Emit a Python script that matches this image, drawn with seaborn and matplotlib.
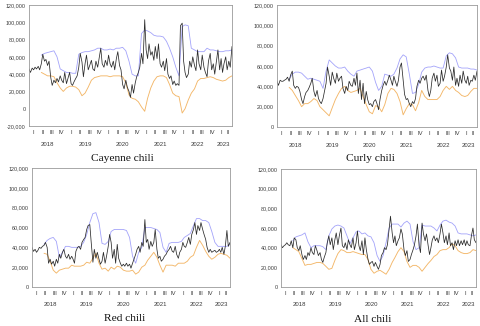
import matplotlib

matplotlib.use("Agg")

import matplotlib.pyplot as plt
import matplotlib.ticker as mticker
import numpy as np
import pandas as pd
import seaborn as sns


# semi-monthly actual prices, Jan 2018 - Jun 2023 (thousand Rp/kg)
HALF_MONTHS = pd.date_range("2018-01-01", periods=131, freq="SMS")
# monthly forecast bands, May 2018 - Jun 2023
MONTHS = pd.date_range("2018-05-01", periods=62, freq="MS")

CAYENNE_ACTUAL = [
    46, 42, 47, 45, 48, 46, 49, 45, 52, 63,
    55, 57, 50, 55, 36, 27, 33, 30, 35, 31,
    38, 33, 30, 42, 29, 35, 42, 29, 27, 31,
    35, 38, 48, 64, 54, 37, 52, 62, 45, 50,
    56, 46, 44, 55, 48, 58, 70, 52, 48, 56,
    50, 62, 52, 48, 55, 45, 58, 66, 50, 45,
    28, 23, 33, 25, 20, 13, 28, 18, 30, 37,
    42, 48, 64, 52, 103, 68, 58, 75, 62, 66,
    56, 72, 58, 75, 52, 48, 55, 44, 58, 40,
    35, 38, 28, 32, 27, 29, 27, 96, 99, 55,
    42, 36, 40, 55, 48, 60, 50, 44, 68, 52,
    45, 62, 48, 42, 37, 55, 64, 45, 52, 40,
    55, 68, 45, 58, 42, 52, 60, 45, 55, 48,
    72,
]
CAYENNE_UPPER = [
    62, 64, 65, 66, 67, 60, 46, 44, 42, 42,
    41, 41, 63, 65, 66, 66, 67, 68, 70, 70,
    68, 68, 69, 68, 70, 70, 71, 67, 55, 40,
    38, 38, 87, 91, 90, 88, 85, 84, 84, 83,
    78, 70, 60, 48, 38, 95, 97, 96, 70, 68,
    66, 66, 66, 70, 68, 68, 67, 66, 66, 67,
    67, 68,
]
CAYENNE_LOWER = [
    42, 40, 38, 38, 37, 30, 24, 20, 24, 26,
    26, 25, 22, 15, 18, 25, 33, 36, 37, 38,
    38, 38, 37, 38, 38, 38, 37, 30, 16, 12,
    11, 8, 2, -3, 12, 24, 32, 37, 38, 38,
    36, 28, 18, 15, 14, -5, 0, 10, 18, 23,
    32, 35, 35, 36, 37, 36, 34, 33, 32, 33,
    36, 38,
]

CURLY_ACTUAL = [
    45, 41, 46, 45, 45, 46, 47, 49, 45, 51,
    55, 41, 38, 40, 39, 35, 27, 23, 30, 34,
    36, 39, 43, 48, 35, 30, 36, 28, 25, 23,
    28, 35, 43, 59, 50, 41, 54, 48, 43, 53,
    45, 48, 50, 38, 33, 40, 36, 45, 41, 40,
    48, 41, 53, 33, 46, 27, 43, 23, 35, 27,
    22, 23, 20, 25, 27, 23, 17, 27, 36, 41,
    45, 41, 46, 51, 46, 41, 50, 45, 40, 46,
    59, 63, 46, 32, 27, 28, 23, 20, 25, 23,
    28, 40, 46, 43, 48, 50, 46, 51, 36, 30,
    36, 48, 53, 45, 51, 40, 43, 56, 45, 50,
    59, 71, 58, 55, 46, 59, 41, 48, 40, 51,
    43, 55, 46, 43, 50, 41, 46, 45, 51, 46,
    55,
]
CURLY_UPPER = [
    47, 52, 54, 54, 53, 50, 47, 48, 47, 46,
    45, 38, 55, 66, 63, 60, 58, 58, 59, 55,
    52, 50, 55, 56, 57, 58, 59, 55, 44, 36,
    40, 52, 51, 50, 52, 58, 67, 71, 69, 52,
    33, 34, 42, 54, 58, 59, 59, 60, 59, 58,
    58, 70, 73, 72, 68, 59, 58, 58, 58, 57,
    57, 56,
]
CURLY_LOWER = [
    39, 36, 31, 26, 20, 23, 23, 25, 28, 26,
    20, 17, 14, 11, 19, 27, 33, 38, 40, 36,
    34, 35, 36, 38, 30, 22, 15, 13, 21, 20,
    15, 22, 33, 38, 37, 33, 25, 12, 18, 23,
    22, 16, 24, 36, 30, 27, 27, 27, 27, 30,
    36, 40, 37, 40, 36, 34, 31, 30, 31, 35,
    38, 38,
]

RED_ACTUAL = [
    40, 36, 38, 35, 37, 40, 39, 41, 42, 45,
    40, 24, 28, 23, 26, 21, 28, 24, 33, 29,
    35, 38, 31, 29, 33, 28, 31, 28, 24, 36,
    40, 41, 38, 45, 48, 50, 58, 62, 63, 45,
    25, 38, 29, 35, 28, 23, 26, 35, 24, 31,
    41, 53, 45, 29, 38, 24, 43, 29, 24, 21,
    23, 21, 24, 21, 23, 19, 24, 28, 33, 38,
    41, 35, 45, 41, 68, 45, 48, 38, 46, 41,
    45, 58, 38, 29, 31, 26, 28, 31, 33, 36,
    38, 41, 36, 35, 41, 33, 29, 35, 38, 45,
    41, 40, 45, 50, 43, 53, 58, 65, 53, 62,
    57, 65, 58, 53, 48, 40, 35, 38, 35, 36,
    37, 35, 36, 38, 35, 40, 33, 41, 57, 41,
    45,
]
RED_UPPER = [
    43, 47, 49, 50, 46, 30, 35, 41, 41, 40,
    40, 40, 41, 45, 53, 65, 74, 75, 65, 44,
    43, 46, 56, 58, 58, 58, 58, 57, 50, 31,
    24, 35, 40, 60, 60, 60, 59, 58, 55, 40,
    35, 44, 45, 45, 45, 46, 50, 52, 54, 62,
    69, 69, 67, 67, 65, 56, 45, 41, 41, 41,
    41, 43,
]
RED_LOWER = [
    34, 33, 26, 17, 14, 17, 18, 19, 19, 22,
    21, 21, 21, 22, 25, 24, 29, 34, 24, 18,
    19, 16, 20, 18, 21, 20, 17, 16, 16, 17,
    13, 15, 20, 22, 27, 31, 35, 30, 22, 15,
    22, 22, 22, 21, 24, 24, 24, 26, 30, 32,
    40, 47, 42, 36, 31, 28, 30, 33, 34, 33,
    32, 29,
]

ALL_ACTUAL = [
    43, 40, 42, 43, 45, 43, 42, 47, 40, 50,
    48, 40, 37, 42, 33, 28, 32, 28, 35, 32,
    40, 35, 33, 42, 37, 32, 35, 28, 25, 30,
    35, 45, 52, 43, 50, 38, 48, 55, 43, 52,
    60, 42, 40, 45, 38, 48, 43, 40, 50, 38,
    45, 57, 42, 37, 47, 33, 50, 38, 28, 23,
    25, 26, 21, 25, 21, 18, 23, 32, 35, 40,
    38, 43, 59, 72, 55, 45, 52, 42, 47, 50,
    59, 54, 38, 32, 37, 26, 28, 33, 38, 43,
    52, 64, 42, 35, 65, 54, 47, 54, 42, 33,
    40, 48, 52, 47, 50, 45, 54, 64, 55, 45,
    52, 43, 55, 42, 45, 38, 47, 42, 48, 42,
    47, 43, 48, 42, 47, 43, 42, 52, 60, 48,
    45,
]
ALL_UPPER = [
    47, 51, 52, 53, 55, 46, 40, 42, 42, 42,
    41, 38, 52, 59, 62, 63, 62, 60, 52, 44,
    50, 56, 57, 54, 55, 52, 51, 45, 32, 26,
    32, 45, 60, 64, 64, 64, 61, 65, 67, 64,
    46, 38, 40, 63, 62, 62, 62, 60, 57, 63,
    67, 68, 66, 65, 62, 55, 54, 54, 54, 53,
    52, 53,
]
ALL_LOWER = [
    40, 38, 36, 29, 22, 23, 23, 24, 25, 25,
    24, 21, 18, 19, 27, 34, 38, 37, 35, 35,
    36, 35, 34, 33, 33, 28, 18, 14, 16, 17,
    15, 13, 18, 25, 30, 36, 40, 36, 26, 20,
    22, 22, 20, 16, 20, 24, 27, 31, 33, 37,
    38, 38, 40, 44, 42, 37, 35, 34, 34, 35,
    38, 37,
]

TITLES = ["Cayenne chili", "Curly chili", "Red chili", "All chili"]
YEARS = [2018, 2019, 2020, 2021, 2022, 2023]
QUARTER_NAMES = ["I", "II", "III", "IV"]

# layout (figure fractions) for the four panels
AXES_RECTS = [
    [0.0604, 0.6135, 0.4229, 0.3712],
    [0.5771, 0.6104, 0.4167, 0.3742],
    [0.0667, 0.1196, 0.4125, 0.3650],
    [0.5854, 0.1196, 0.4063, 0.3620],
]
TITLE_POS = [(0.254, 0.515), (0.771, 0.515), (0.259, 0.022), (0.777, 0.020)]
YEAR_OFFSET = [-13.5, -13.5, -12.5, -12.5]

X_START = pd.Timestamp("2018-01-01")
X_END = pd.Timestamp("2023-05-20")

ACTUAL_COLOR = "#2a2a2a"
UPPER_COLOR = "#a3a3fa"
LOWER_COLOR = "#f3b769"
FRAME_COLOR = "#9a9a9a"
TEXT_COLOR = "#3a3a3a"
TICK_FONT = ["Liberation Sans", "DejaVu Sans"]


def thousands(values):
    return np.array(values, dtype=float) * 1000


def style_axes(ax, ylim):
    ax.set_xlim(X_START, X_END)
    ax.set_ylim(*ylim)
    ax.yaxis.set_major_locator(mticker.MultipleLocator(20000))
    ax.yaxis.set_major_formatter(mticker.FuncFormatter(lambda v, _: f"{v:,.0f}"))
    ax.tick_params(axis="y", length=1.5, width=0.5, pad=1, labelsize=3.9,
                   colors=FRAME_COLOR, labelcolor=TEXT_COLOR)
    for label in ax.get_yticklabels():
        label.set_family(TICK_FONT)

    quarter_starts = pd.date_range("2018-01-01", "2023-06-01", freq="QS")
    month_starts = pd.date_range("2018-01-01", "2023-06-01", freq="MS")
    ax.set_xticks(quarter_starts)
    ax.set_xticks(month_starts, minor=True)
    ax.set_xticklabels([])
    ax.tick_params(axis="x", which="major", length=2.5, width=0.5, colors=FRAME_COLOR)
    ax.tick_params(axis="x", which="minor", length=1.2, width=0.4, colors=FRAME_COLOR)

    for spine in ax.spines.values():
        spine.set_visible(True)
        spine.set_color(FRAME_COLOR)
        spine.set_linewidth(0.6)
    ax.set_xlabel("")
    ax.set_ylabel("")
    ax.grid(False)


def label_quarters(ax, year_offset):
    for start in pd.date_range("2018-01-01", "2023-04-01", freq="QS"):
        end = min(start + pd.offsets.QuarterBegin(startingMonth=1), X_END)
        mid = start + (end - start) / 2
        name = QUARTER_NAMES[(start.month - 1) // 3]
        ax.annotate(name, xy=(mid, 0), xycoords=("data", "axes fraction"),
                    xytext=(0, -5), textcoords="offset points",
                    ha="center", va="center", fontsize=4.2,
                    color=TEXT_COLOR, family=TICK_FONT)
    for year in YEARS:
        start = pd.Timestamp(f"{year}-01-01")
        end = min(pd.Timestamp(f"{year + 1}-01-01"), X_END)
        mid = start + (end - start) / 2
        ax.annotate(str(year), xy=(mid, 0), xycoords=("data", "axes fraction"),
                    xytext=(0, year_offset), textcoords="offset points",
                    ha="center", va="center", fontsize=4.3,
                    color=TEXT_COLOR, family=TICK_FONT)


def plot_panel(fig, idx, actual, upper, lower, ylim):
    ax = fig.add_axes(AXES_RECTS[idx])
    sns.lineplot(x=MONTHS, y=thousands(upper), color=UPPER_COLOR,
                 linewidth=0.6, ax=ax, estimator=None, sort=False)
    sns.lineplot(x=MONTHS, y=thousands(lower), color=LOWER_COLOR,
                 linewidth=0.65, ax=ax, estimator=None, sort=False)
    sns.lineplot(x=HALF_MONTHS, y=thousands(actual), color=ACTUAL_COLOR,
                 linewidth=0.55, ax=ax, estimator=None, sort=False)
    style_axes(ax, ylim)
    label_quarters(ax, YEAR_OFFSET[idx])
    tx, ty = TITLE_POS[idx]
    fig.text(tx, ty, TITLES[idx], ha="center", va="center", fontsize=8.2,
             family=["Liberation Serif", "DejaVu Serif"], color="#111111")
    return ax


def main():
    sns.set_style("white")
    plt.rcParams["font.family"] = ["Liberation Sans", "DejaVu Sans"]

    fig = plt.figure(figsize=(4.8, 3.26), dpi=100)
    fig.patch.set_facecolor("white")

    plot_panel(fig, 0, CAYENNE_ACTUAL, CAYENNE_UPPER, CAYENNE_LOWER, (-20000, 120000))
    plot_panel(fig, 1, CURLY_ACTUAL, CURLY_UPPER, CURLY_LOWER, (0, 120000))
    plot_panel(fig, 2, RED_ACTUAL, RED_UPPER, RED_LOWER, (0, 120000))
    plot_panel(fig, 3, ALL_ACTUAL, ALL_UPPER, ALL_LOWER, (0, 120000))

    fig.savefig("out.png", dpi=100)
    plt.close(fig)


if __name__ == "__main__":
    main()
